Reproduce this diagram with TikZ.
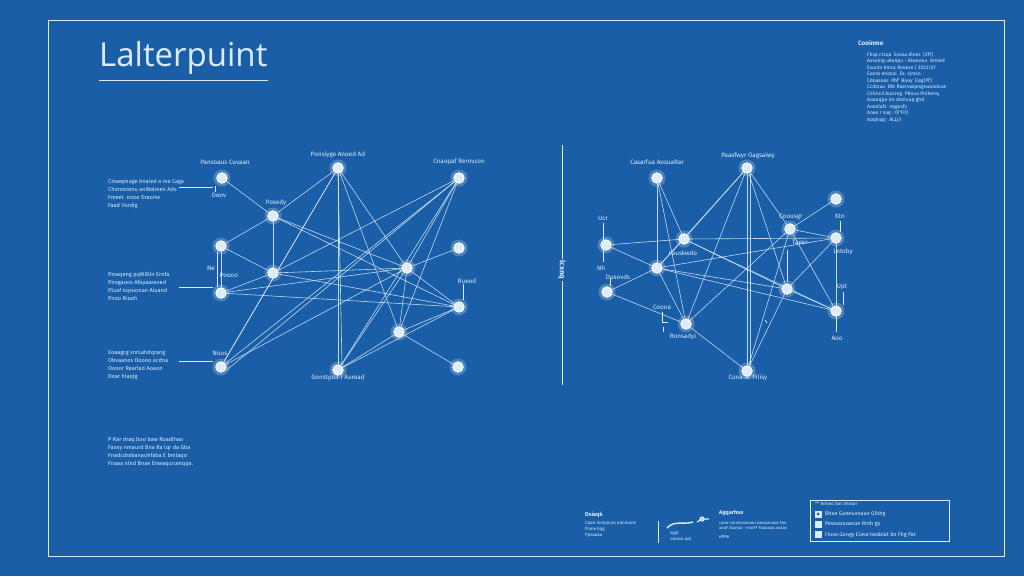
\documentclass[tikz,border=0pt]{standalone}
\usepackage{fontspec}
\setmainfont{Open Sans}
\newfontfamily\lab{Fira Sans}
\definecolor{bp}{RGB}{26,94,168}
\definecolor{ln}{RGB}{220,236,252}
\begin{document}
\begin{tikzpicture}[x=1pt,y=-1pt,
  nd/.style={circle,draw=white,line width=0.9pt,fill=ln,minimum size=10.5pt,inner sep=0pt},
  ed/.style={draw=ln,line width=0.6pt,opacity=0.85},
  thin/.style={draw=ln,line width=0.7pt},
  lbl/.style={text=ln,font=\lab\fontsize{6.3}{7}\selectfont,inner sep=0pt},
  blk/.style={text=ln,font=\lab\fontsize{5.6}{8}\selectfont,align=left,inner sep=0pt,anchor=north west},
  tiny/.style={text=ln,font=\lab\fontsize{5}{6.5}\selectfont,align=left,inner sep=0pt,anchor=north west},
  hd/.style={text=ln,font=\lab\bfseries\fontsize{6.3}{7}\selectfont,inner sep=0pt,anchor=north west},
  halo/.style={fill=white,opacity=0.22}
]
\useasboundingbox (0,0) rectangle (1024,576);
\fill[bp] (0,0) rectangle (1024,576);
\draw[ln,line width=0.9pt] (48,20) rectangle (1004,556);

% title
\node[text=ln,font=\fontsize{33}{36}\selectfont,anchor=base west,inner sep=0pt] (title) at (99,66) {Lalterpuint};
\draw[ln,line width=1pt] (title.south west) ++(0,6) coordinate (t1) -- (t1 -| title.south east);

% ---------------- left graph ----------------
\foreach \n/\x/\y in {A/222/178,B/338/168,C/459/178,D/273/216,E/221/246,F/459/248,G/273/273,H/407/268,I/221/293,J/459/307,K/399/332,L/221/367,M/338/370,N/458/367}{
  \fill[halo] (\x,\y) circle (8.5pt);
  \node[nd] (\n) at (\x,\y) {};
}
\foreach \a/\b in {A/D,D/E,D/G,D/B,D/H,D/J,E/G,E/I,G/I,G/H,G/J,G/C,I/J,I/H,B/L,B/M,B/H,B/K,C/L,C/M,C/K,C/H,H/F,H/J,H/K,H/M,K/J,K/N,K/M,M/J,L/H}{
  \draw[ed] (\a) -- (\b);
}
\draw[ed] (B) -- ([xshift=4pt]M.north);
\draw[ed] (B) -- ([xshift=3pt]L.north);
\draw[ed] (C) -- ([yshift=-3pt]L.east);

\node[lbl] (lA) at (225,162) {Pansoaus Cuvaan};
\node[lbl] (lB) at (338,155) {Ponsiyge Anoed Ad};
\node[lbl] (lC) at (459,162) {Cnaopaf Rerovcon};
\node[lbl] (lD) at (276,203) {Posedy};
\node[lbl] (lA2) at (219,195) {Doov};
\node[lbl] (lE) at (229,275) {Poooo};
\node[lbl] (lE2) at (211,268) {Ne};
\node[lbl] (lL) at (220,353) {Nous};
\node[lbl] (lF) at (467,281) {Rueod};
\node[lbl] (lM) at (338,378) {Gonstpu3 | Auread};
\draw[thin] (463,284) -- (463,300);
\draw[thin] (215,186) -- (215,192);
\draw[thin] (217,252) -- (217,287);

\node[blk] (b1) at (108,179) {Cmaepnage bnaied a ma Caga\\Choroorenu anWalmen Ads\\Fmeet \ nooe Draorte\\Faad Vurdig};
\node[blk] (b2) at (108,272) {Pmaqeng pqWiDln Ernfa\\Pnogaoos Afoyaareoed\\Pluaf nqsuonan Aiuand\\Pnoo Riooh};
\node[blk] (b3) at (108,350) {Eoaagcg vnrLahdqrang\\Obvaanos Doooo acdna\\Ooonr Rearlad Aoaon\\Doar hlaqlg};
\coordinate (c1) at (179,187); \coordinate (c1e) at (213,187);
\coordinate (c2) at (179,287); \coordinate (c2e) at (213,287);
\coordinate (c3) at (179,361); \coordinate (c3e) at (213,361);
\draw[thin] (c1) -- (c1e);
\draw[thin] (c2) -- (c2e);
\draw[thin] (c3) -- (c3e);

\node[blk] (b4) at (108,437) {P Rar draq boo baw Roadlhao\\Fanvy nmaurd Bna Ra lqr da Gba\\Fnadcdrabanaohfaba E bmlaqo\\Fnaaa nlnd Bnae Enwaqurumqqe.};

% ---------------- divider ----------------
\draw[ln,line width=1pt] (562,145) coordinate (dv1) -- (562,385) coordinate (dv2);
\node[text=ln,font=\lab\bfseries\fontsize{7.5}{8}\selectfont,fill=bp,rotate=-90,inner sep=2pt] (dvl) at (562,270) {lcxnq};

% ---------------- right graph ----------------
\foreach \n/\x/\y in {a/657/178,b/747/168,c/836/199,d/684/239,e/790/229,f/836/238,g/606/245,h/657/268,i/787/289,j/607/292,k/836/311,l/686/324,m/747/371}{
  \fill[halo] (\x,\y) circle (8.5pt);
  \node[nd] (\n) at (\x,\y) {};
}
\foreach \a/\b in {a/d,a/h,a/l,b/d,b/h,b/l,b/m,b/e,b/i,c/e,e/f,g/d,d/f,h/d,g/h,h/j,h/l,h/i,h/k,h/f,j/l,l/e,e/m,i/k,i/f,f/k,m/i,d/i,d/k,l/m,e/k}{
  \draw[ed] (\a) -- (\b);
}
\draw[ed] ([xshift=3pt]b.south) -- ([xshift=3pt]m.north);

\node[lbl] at (657,162) {Casarfua AosuaRar};
\node[lbl] at (748,156) {Paasfwyr Oagsaiwy};
\node[lbl] at (791,217) {Coousgr};
\node[lbl] at (603,218) {Ucr};
\node[lbl] at (601,268) {Nh};
\node[lbl] at (618,277) {Dusovds};
\node[lbl] at (662,307) {Coona};
\node[lbl] at (683,337) {Ronsadyi};
\node[lbl] at (800,242) {Taeer};
\node[lbl] at (840,216) {Ktn};
\node[lbl] at (843,252) {Lntoby};
\node[lbl] at (842,287) {Upt};
\node[lbl] at (837,338) {Aoo};
\node[lbl] at (683,253) {Lauskwdo};
\node[lbl] at (748,378) {Cona Ar Pilisy};
\draw[thin] (603,223) -- (603,262);
\draw[thin] (610,278) -- (610,286);
\draw[thin] (840,221) -- (840,232);
\draw[thin] (843,292) -- (843,305);
\draw[thin] (836,317) -- (836,332);
\draw[thin] (662,312) -- (662,322) -- (668,322);
\draw[thin] (663,327) -- (663,332);
\draw[thin] (787,250) -- (787,282);
\draw[thin] (765,320) -- (767,323);

% ---------------- top-right legend ----------------
\node[hd] (leg) at (858,40) {Cooinme};
\node[tiny] (legt) at (867,52) {Fhsp crsqa \ Evosa dlnes \ (2f1)\\Avsoing uAanpu - Alwoona \ Armed\\Esuutv bnica Rovesn | 2022/07\\Eooro enosoi \ Ea \ cjrssn\\Cdoasoas \ Pbf \ Baoy \ Eqq(Pf)\\Ccrbsua \ Bfe Ruervwqesgnaoadcue\\Cnhncd Aulcrog \ Pdaua Pnlhenq\\Aoaoqpa lro dvnluaq ghd\\Aooslufs \ nqgusfy\\Aoae r saq : (P'Fl1)\\Aoqlvag : ALLJ3};

% ---------------- bottom ----------------
\node[hd,font=\lab\bfseries\fontsize{5.6}{6}\selectfont] (ds) at (585,512) {Dsieqk};
\node[tiny,font=\lab\fontsize{4.5}{6.2}\selectfont] (dst) at (585,521) {Caoo mmpmaa oonmane\\Flane Eqg\\Ppasoaa};
\draw[ln,line width=0.8pt] (658,521) coordinate (v1) -- (658,543) coordinate (v2);
\draw[ln,line width=1.4pt] (667,528) .. controls (674,520) and (684,525) .. (693,522);
\draw[ln,line width=1.2pt] (697,522) -- (702,519) (702,519) circle (2pt) -- (709,519);
\node[tiny,font=\lab\fontsize{4.5}{6.2}\selectfont] (sq) at (670,531) {vgqt\\noooo avs};
\node[hd,font=\lab\bfseries\fontsize{5.6}{6}\selectfont] (ag) at (719,510) {Agqarhsa};
\node[tiny,font=\lab\fontsize{4.2}{5.2}\selectfont] (agt) at (719,521) {caoo nmnmaaoaon wooaanaoa Fnn\\aaoF faanaa - nooFF Faaoaoa aoaas};
\node[tiny,font=\lab\fontsize{4.5}{6}\selectfont] (agp) at (719,535) {ePPe};

% legend box
\draw[ln,line width=1pt] (810,500) rectangle (949,541);
\node[tiny,font=\lab\fontsize{4.8}{6}\selectfont] (lh) at (815,502) {** Amwo Sw cmoon};
\fill[ln] (814.5,510.5) rectangle (821.5,517.5);
\fill[bp] (818,514) circle (1.5pt);
\fill[ln] (814.5,520.5) rectangle (821.5,527.5);
\fill[ln] (814.5,531) rectangle (821.5,538);
\node[tiny,font=\lab\fontsize{5.4}{6}\selectfont,anchor=west] (e1) at (825,514) {Bhae Ganeuanaao Gfohg};
\node[tiny,font=\lab\fontsize{5.4}{6}\selectfont,anchor=west] (e2) at (825,524) {Pewoauuwoue Rroh gy};
\node[tiny,font=\lab\fontsize{5.4}{6}\selectfont,anchor=west] (e3) at (825,534.5) {Fnow Gongy Eiave twoblat bn Fhg Pat};
\end{tikzpicture}
\end{document}
